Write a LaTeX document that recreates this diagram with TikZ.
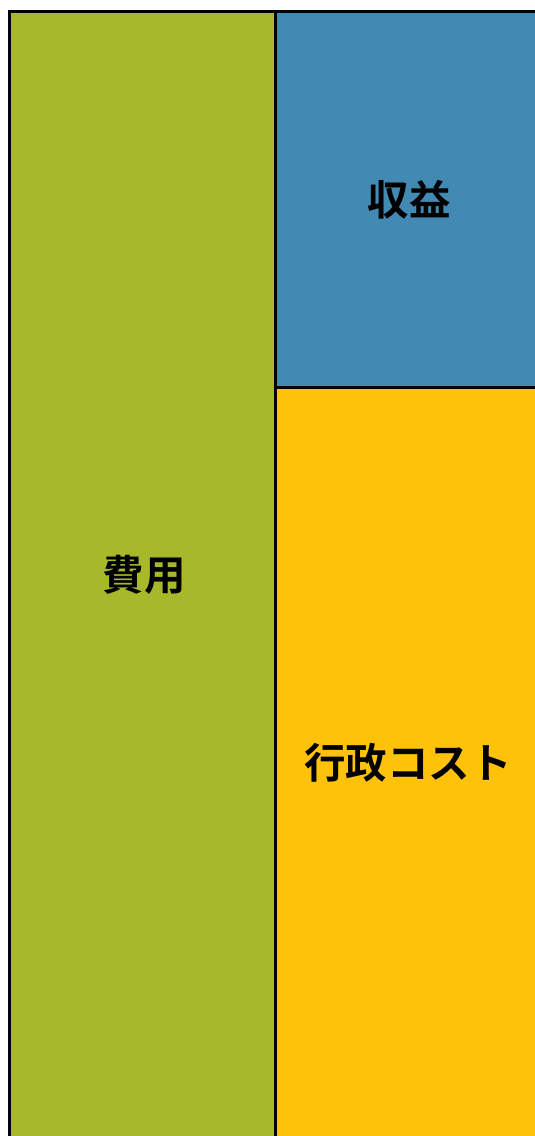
\documentclass[tikz,border=0pt]{standalone}
\usepackage{fontspec}
\newfontfamily\cjk{Noto Sans CJK JP}[BoldFont={Noto Sans CJK JP Bold}]
\definecolor{cgreen}{HTML}{A7B82A}
\definecolor{cblue}{HTML}{428AB3}
\definecolor{cyellow}{HTML}{FFC20A}
\tikzset{
  box/.style={draw=black, line width=3pt},
  lbl/.style={font=\cjk\bfseries\fontsize{41.5}{44}\selectfont, text=black, inner sep=0pt}
}
\begin{document}
\begin{tikzpicture}[x=1pt,y=-1pt]
\useasboundingbox (0,0) rectangle (535,1136);
\clip (0,0) rectangle (535,1136);
\fill[white] (0,0) rectangle (535,1136);
\path[box, fill=cgreen] (9.5,11.5) rectangle (275,1160);
\path[box, fill=cblue] (275,11.5) rectangle (560,387.5);
\path[box, fill=cyellow] (275,387.5) rectangle (560,1160);
\node[lbl] (shueki) at (409,200) {収益};
\node[lbl] (hiyou) at (144,575) {費用};
\node[lbl] (gyosei) at (408,763) {行政コスト};
\end{tikzpicture}
\end{document}
